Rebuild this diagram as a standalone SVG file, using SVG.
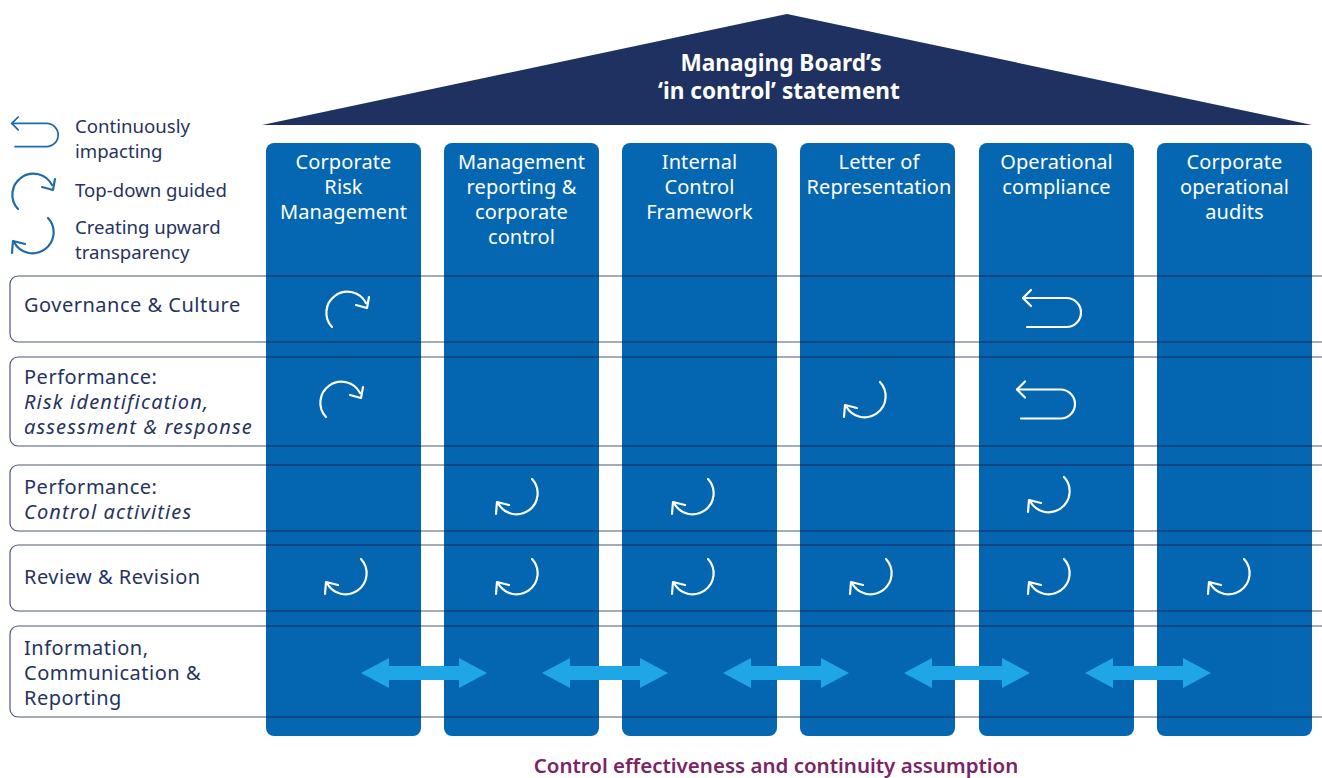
<svg xmlns="http://www.w3.org/2000/svg" width="1322" height="778" viewBox="0 0 1322 778">
<style>
.col{fill:#0567b1}
.hdr{font-family:"Noto Sans",sans-serif;font-size:20px;letter-spacing:0.1px;fill:#fff;text-anchor:middle}
.lbl{font-family:"Noto Sans",sans-serif;font-size:20px;letter-spacing:0.5px;fill:#263360}
.it{font-style:italic;letter-spacing:1.15px}
.leg{font-family:"Noto Sans",sans-serif;font-size:18.6px;fill:#263360}
.rowbox{fill:#fff;stroke:#4d5878;stroke-width:1.2}
.rowline{stroke:#1c2d5a;stroke-width:1.4;opacity:0.7}
.iw{fill:none;stroke:#fff;stroke-width:2.2;stroke-linecap:round;stroke-linejoin:round}
.ib{fill:none;stroke:#1f6aad;stroke-width:2.2;stroke-linecap:round;stroke-linejoin:round}
.dbl{fill:#1fa6e6}
</style>
<defs>
<clipPath id="cols">
<rect x="266" y="143" width="155" height="593" rx="8"/>
<rect x="444" y="143" width="155" height="593" rx="8"/>
<rect x="622" y="143" width="155" height="593" rx="8"/>
<rect x="800" y="143" width="155" height="593" rx="8"/>
<rect x="979" y="143" width="155" height="593" rx="8"/>
<rect x="1157" y="143" width="155" height="593" rx="8"/>
</clipPath>
<g id="cont"><path d="M -29,-14.5 H 14.5 A 14.5 14.5 0 0 1 14.5,14.5 H -25"/><path d="M -21,-22.5 L -29,-14.5 L -21,-6.5"/></g>
<g id="td"><path d="M -15,16 A 21 21 0 1 1 19,-8"/><path d="M 9,-6 L 20,-3 L 22,-14"/></g>
<g id="up"><path d="M 14,-18 A 21 21 0 1 1 -20,6"/><path d="M -9,8 L -21,5 L -22,17"/></g>
<path id="dblarrow" d="M -63,0 L -35,-15 L -35,-7 L 35,-7 L 35,-15 L 63,0 L 35,15 L 35,7 L -35,7 L -35,15 Z"/>
</defs>

<g id="roof">
<polygon points="262,125 787,14 1312,125" fill="#1f3160"/>
<text x="781" y="71" font-family="Noto Sans,sans-serif" font-size="22.6px" font-weight="bold" fill="#fff" text-anchor="middle">Managing Board’s</text>
<text x="779" y="99" font-family="Noto Sans,sans-serif" font-size="22.6px" font-weight="bold" fill="#fff" text-anchor="middle">‘in control’ statement</text>
</g>

<g id="legend">
<g class="ib" transform="translate(35,135) scale(0.8)"><use href="#cont"/></g>
<text class="leg" x="75" y="133">Continuously</text>
<text class="leg" x="75" y="158">impacting</text>
<g class="ib" transform="translate(33,193)"><use href="#td"/></g>
<text class="leg" x="75" y="197">Top-down guided</text>
<g class="ib" transform="translate(34,236)"><use href="#up"/></g>
<text class="leg" x="75" y="234">Creating upward</text>
<text class="leg" x="75" y="259">transparency</text>
</g>

<g id="rows">
<rect class="rowbox" x="10" y="276" width="1340" height="66" rx="8"/>
<rect class="rowbox" x="10" y="357" width="1340" height="89" rx="8"/>
<rect class="rowbox" x="10" y="465" width="1340" height="66" rx="8"/>
<rect class="rowbox" x="10" y="545" width="1340" height="66" rx="8"/>
<rect class="rowbox" x="10" y="626" width="1340" height="91" rx="8"/>
</g>

<g id="columns">
<g id="col1"><rect class="col" x="266" y="143" width="155" height="593" rx="8"/>
<text class="hdr" x="343.5" y="169">Corporate</text><text class="hdr" x="343.5" y="194">Risk</text><text class="hdr" x="343.5" y="219">Management</text></g>
<g id="col2"><rect class="col" x="444" y="143" width="155" height="593" rx="8"/>
<text class="hdr" x="521.5" y="169">Management</text><text class="hdr" x="521.5" y="194">reporting &amp;</text><text class="hdr" x="521.5" y="219">corporate</text><text class="hdr" x="521.5" y="244">control</text></g>
<g id="col3"><rect class="col" x="622" y="143" width="155" height="593" rx="8"/>
<text class="hdr" x="699.5" y="169">Internal</text><text class="hdr" x="699.5" y="194">Control</text><text class="hdr" x="699.5" y="219">Framework</text></g>
<g id="col4"><rect class="col" x="800" y="143" width="155" height="593" rx="8"/>
<text class="hdr" x="879" y="169">Letter of</text><text class="hdr" x="879" y="194">Representation</text></g>
<g id="col5"><rect class="col" x="979" y="143" width="155" height="593" rx="8"/>
<text class="hdr" x="1056.5" y="169">Operational</text><text class="hdr" x="1056.5" y="194">compliance</text></g>
<g id="col6"><rect class="col" x="1157" y="143" width="155" height="593" rx="8"/>
<text class="hdr" x="1234.5" y="169">Corporate</text><text class="hdr" x="1234.5" y="194">operational</text><text class="hdr" x="1234.5" y="219">audits</text></g>
</g>

<g id="rowlines" clip-path="url(#cols)" class="rowline">
<line x1="262" y1="276" x2="1322" y2="276"/><line x1="262" y1="342" x2="1322" y2="342"/>
<line x1="262" y1="357" x2="1322" y2="357"/><line x1="262" y1="446" x2="1322" y2="446"/>
<line x1="262" y1="465" x2="1322" y2="465"/><line x1="262" y1="531" x2="1322" y2="531"/>
<line x1="262" y1="545" x2="1322" y2="545"/><line x1="262" y1="611" x2="1322" y2="611"/>
<line x1="262" y1="626" x2="1322" y2="626"/><line x1="262" y1="717" x2="1322" y2="717"/>
</g>

<g id="rowlabels">
<text class="lbl" x="24" y="312">Governance &amp; Culture</text>
<text class="lbl" x="24" y="384">Performance:</text>
<text class="lbl it" x="24" y="409">Risk identification,</text>
<text class="lbl it" x="24" y="434">assessment &amp; response</text>
<text class="lbl" x="24" y="494">Performance:</text>
<text class="lbl it" x="24" y="519">Control activities</text>
<text class="lbl" x="24" y="584">Review &amp; Revision</text>
<text class="lbl" x="24" y="655">Information,</text>
<text class="lbl" x="24" y="680">Communication &amp;</text>
<text class="lbl" x="24" y="705">Reporting</text>
</g>

<g id="icons" class="iw">
<use href="#td" x="347" y="311"/>
<use href="#cont" x="1052" y="312.5"/>
<use href="#td" x="341" y="401"/>
<use href="#up" x="866" y="400"/>
<use href="#cont" x="1046" y="404"/>
<use href="#up" x="518" y="497"/>
<use href="#up" x="694" y="497"/>
<use href="#up" x="1050" y="495"/>
<use href="#up" x="347" y="577"/>
<use href="#up" x="518" y="577"/>
<use href="#up" x="694" y="577"/>
<use href="#up" x="872" y="577"/>
<use href="#up" x="1050" y="577"/>
<use href="#up" x="1230" y="577"/>
</g>

<g id="connectors" class="dbl">
<use href="#dblarrow" x="424" y="673"/>
<use href="#dblarrow" x="605" y="673"/>
<use href="#dblarrow" x="786" y="673"/>
<use href="#dblarrow" x="967" y="673"/>
<use href="#dblarrow" x="1148" y="673"/>
</g>

<text id="footer" x="776" y="773" font-family="Noto Sans,sans-serif" font-size="20.5px" font-weight="600" fill="#7a2466" text-anchor="middle">Control effectiveness and continuity assumption</text>
</svg>
